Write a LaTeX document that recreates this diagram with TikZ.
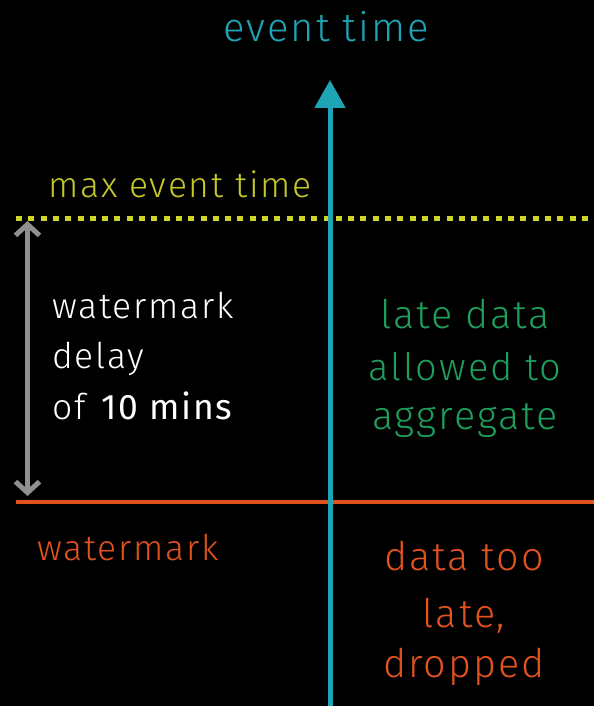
\documentclass[tikz,border=0pt]{standalone}
\usepackage{fontspec}
\setmainfont{Fira Sans Light}[BoldFont={Fira Sans}, LetterSpace=5]
\usetikzlibrary{arrows.meta}
\definecolor{axisblue}{HTML}{1FA4B6}
\definecolor{maxyellow}{HTML}{D0D428}
\definecolor{maxtext}{HTML}{C4C82A}
\definecolor{lategreen}{HTML}{1E9E5C}
\definecolor{wmorange}{HTML}{E2521F}
\definecolor{delaygray}{HTML}{909090}
\tikzset{
  lbl/.style={inner sep=0pt, anchor=base west},
  clbl/.style={inner sep=0pt, anchor=base},
  fsmall/.style={font=\fontsize{35.5}{40}\selectfont},
  fbig/.style={font=\fontsize{39.5}{44}\selectfont},
  delayarrow/.style={line width=5pt, arrows={Straight Barb[length=11pt,width=24pt]-Straight Barb[length=11pt,width=24pt]}},
}
\begin{document}
\begin{tikzpicture}[x=1pt,y=-1pt]
\fill[black] (0,0) rectangle (594,706);
\useasboundingbox (0,0) rectangle (594,706);
% coordinates
\coordinate (axbot) at (330,706);
\coordinate (axtop) at (330,80);
\coordinate (maxL) at (16,218);
\coordinate (maxR) at (594,218);
\coordinate (wmL) at (16,502);
\coordinate (wmR) at (594,502);
\coordinate (dTop) at (27.5,221);
\coordinate (dBot) at (27.5,496);
% lines
\draw[maxyellow, line width=5pt, dash pattern=on 6pt off 6.3pt] (maxL) -- (maxR);
\draw[wmorange, line width=4pt] (wmL) -- (wmR);
\draw[axisblue, line width=5pt, -{Triangle[width=30pt,length=28pt]}] (axbot) -- (axtop);
\draw[delaygray, delayarrow] (dTop) -- (dBot);
% texts
\node[clbl, axisblue, font=\fontsize{40}{44}\selectfont] (et) at (326,42) {event time};
\node[lbl, maxtext, fsmall] (met) at (48,197) {max event time};
\node[lbl, white, fsmall] (d1) at (52,318) {watermark};
\node[lbl, white, fsmall] (d2) at (52,368) {delay};
\node[lbl, white, fsmall] (d3) at (52,419) {of \textbf{10 mins}};
\node[clbl, lategreen, fbig] (g1) at (465,328) {late data};
\node[clbl, lategreen, font=\fontsize{38}{44}\selectfont] (g2) at (465,380) {allowed to};
\node[clbl, lategreen, fbig] (g3) at (465,429) {aggregate};
\node[lbl, wmorange, fsmall] (wm) at (37,560) {watermark};
\node[clbl, wmorange, fbig] (o1) at (464,570) {data too};
\node[clbl, wmorange, fbig] (o2) at (464,627) {late,};
\node[clbl, wmorange, fbig] (o3) at (464,677) {dropped};
\end{tikzpicture}
\end{document}
